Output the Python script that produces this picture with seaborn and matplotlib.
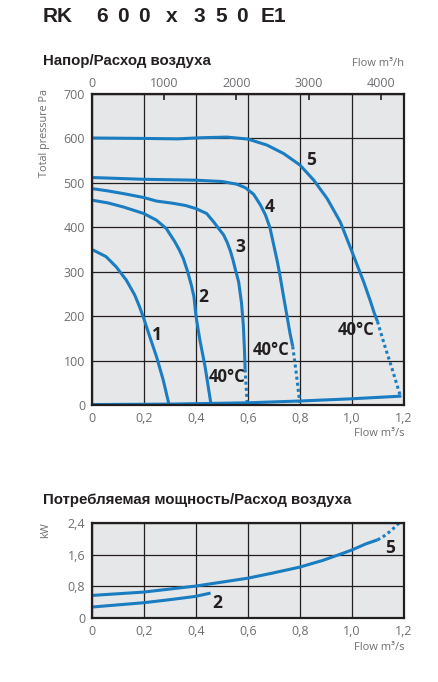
import matplotlib
matplotlib.use("Agg")
import matplotlib.pyplot as plt
import seaborn as sns
import numpy as np

# Pressure / flow curves (flow in m3/s, total pressure in Pa)
q1 = [0, 0.054, 0.093, 0.132, 0.164, 0.183, 0.199, 0.222, 0.248, 0.274, 0.295]
p1 = [350, 334, 311, 281, 248, 221, 195, 154, 109, 56, 4]

q2 = [0, 0.06, 0.119, 0.199, 0.248, 0.286, 0.318, 0.335, 0.351, 0.368, 0.382,
      0.392, 0.4, 0.415, 0.435, 0.457]
p2 = [461, 455, 446, 431, 416, 397, 368, 350, 330, 300, 270, 244, 200, 146, 86, 4]

q3 = [0, 0.06, 0.119, 0.199, 0.248, 0.312, 0.36, 0.4, 0.441, 0.468, 0.49, 0.506,
      0.52, 0.532, 0.542, 0.551, 0.564, 0.575, 0.582, 0.586, 0.589]
p3 = [487, 482, 476, 467, 459, 454, 449, 442, 431, 412, 395, 383, 366, 347, 327,
      306, 277, 230, 180, 130, 80]
q3_hot = [0.589, 0.593, 0.597]
p3_hot = [80, 40, 4]

q4 = [0, 0.199, 0.4, 0.5, 0.557, 0.59, 0.622, 0.648, 0.667, 0.684, 0.699, 0.712,
      0.722, 0.735, 0.75, 0.762, 0.772]
p4 = [512, 508, 506, 503, 497, 489, 474, 450, 428, 400, 360, 325, 295, 250, 200,
      160, 132]
q4_hot = [0.772, 0.786, 0.799]
p4_hot = [132, 70, 5]

q5 = [0, 0.2, 0.33, 0.417, 0.519, 0.6, 0.673, 0.737, 0.8, 0.853, 0.904, 0.955,
      1.0, 1.045, 1.07, 1.085, 1.098]
p5 = [601, 600, 599, 601.5, 603, 598.5, 585, 566, 540, 506, 465, 412, 345, 277,
      235, 208, 188]
q5_hot = [1.098, 1.125, 1.155, 1.186]
p5_hot = [188, 135, 80, 20]

# system line along the bottom
q_sys = [0, 0.3, 0.6, 0.8, 1.0, 1.19]
p_sys = [1, 2, 5, 9, 14, 20]

# Power consumption / flow (kW)
qw5 = [0, 0.199, 0.398, 0.5, 0.6, 0.693, 0.798, 0.886, 0.963, 1.0, 1.053, 1.098]
w5 = [0.57, 0.655, 0.806, 0.907, 1.007, 1.133, 1.284, 1.452, 1.63, 1.72, 1.872, 1.973]
qw5_hot = [1.098, 1.117, 1.149, 1.181]
w5_hot = [1.973, 2.04, 2.2, 2.4]
qw2 = [0, 0.199, 0.308, 0.398, 0.456]
w2 = [0.277, 0.386, 0.47, 0.546, 0.63]

curve_labels = ["1", "2", "3", "4", "5"]
label_q = [0.25, 0.427, 0.569, 0.685, 0.842]
label_p = [158, 243, 356, 446, 551]
temp_q = [0.519, 0.688, 1.015]
temp_p = [63, 124, 169]

flow_ticks = ["0", "0,2", "0,4", "0,6", "0,8", "1,0", "1,2"]
kw_ticks = ["0", "0,8", "1,6", "2,4"]

BLUE = "#1a7cc1"
DARK = "#231f20"
GREY = "#6d6e71"
BG = "#e6e7e8"
NARROW = ["Liberation Sans Narrow", "Open Sans"]

sns.set_style("white", {"axes.facecolor": BG})
plt.rcParams["font.family"] = ["Open Sans", "DejaVu Sans"]

fig = plt.figure(figsize=(4.38, 6.82), dpi=100)
ax = fig.add_axes([92 / 438, 1 - 405 / 682, 312 / 438, 311 / 682])
ax2 = fig.add_axes([92 / 438, 1 - 618 / 682, 312 / 438, 95 / 682])

lw = 2.2
for xs, ys in [(q1, p1), (q2, p2), (q3, p3), (q4, p4), (q5, p5), (q_sys, p_sys)]:
    sns.lineplot(x=xs, y=ys, ax=ax, color=BLUE, lw=lw, sort=False,
                 solid_capstyle="butt", solid_joinstyle="round")
for xs, ys in [(q3_hot, p3_hot), (q4_hot, p4_hot), (q5_hot, p5_hot)]:
    sns.lineplot(x=xs, y=ys, ax=ax, color=BLUE, lw=lw, sort=False,
                 linestyle=(0, (1, 1)), dash_capstyle="butt")

for lab, x, y in zip(curve_labels, label_q, label_p):
    ax.text(x, y, lab, fontsize=12.5, fontweight="bold", color=DARK,
            family=NARROW, ha="center", va="center")
for x, y in zip(temp_q, temp_p):
    ax.text(x, y, "40°C", fontsize=12, fontweight="bold", color=DARK,
            family=NARROW, ha="center", va="center")

ax.set_xlim(0, 1.2)
ax.set_ylim(0, 700)
ax.set_xticks(np.arange(0, 1.21, 0.2))
ax.set_xticklabels(flow_ticks)
ax.set_yticks(np.arange(0, 701, 100))
ax.grid(True, color=DARK, lw=0.9)
ax.tick_params(length=0, labelsize=9, labelcolor=GREY, pad=5)

top = ax.secondary_xaxis("top", functions=(lambda q: q * 3600, lambda h: h / 3600))
top.set_xticks([0, 1000, 2000, 3000, 4000])
top.tick_params(direction="in", length=4, width=1.2, color=DARK,
                labelsize=9, labelcolor=GREY, pad=3)

sns.lineplot(x=qw5, y=w5, ax=ax2, color=BLUE, lw=lw, sort=False,
             solid_capstyle="butt")
sns.lineplot(x=qw5_hot, y=w5_hot, ax=ax2, color=BLUE, lw=lw, sort=False,
             linestyle=(0, (1, 1)), dash_capstyle="butt")
sns.lineplot(x=qw2, y=w2, ax=ax2, color=BLUE, lw=lw, sort=False,
             solid_capstyle="butt")
ax2.text(1.146, 1.763, "5", fontsize=12.5, fontweight="bold", color=DARK,
         family=NARROW, ha="center", va="center")
ax2.text(0.481, 0.386, "2", fontsize=12.5, fontweight="bold", color=DARK,
         family=NARROW, ha="center", va="center")

ax2.set_xlim(0, 1.2)
ax2.set_ylim(0, 2.4)
ax2.set_xticks(np.arange(0, 1.21, 0.2))
ax2.set_xticklabels(flow_ticks)
ax2.set_yticks([0, 0.8, 1.6, 2.4])
ax2.set_yticklabels(kw_ticks)
ax2.set_yticks([0.4, 1.2, 2.0], minor=True)
ax2.grid(True, color=DARK, lw=0.9)
ax2.tick_params(length=0, labelsize=9, labelcolor=GREY, pad=5)
ax2.tick_params(axis="y", which="minor", length=2, color=GREY)

for a in (ax, ax2):
    for s in a.spines.values():
        s.set_visible(True)
        s.set_color(DARK)
        s.set_linewidth(1.6)
    a.set_xlabel("")
    a.set_ylabel("")

# letter-spaced model name
title_parts = ["RK", "6", "0", "0", "x", "3", "5", "0", "E1"]
title_x = [43, 96, 117, 138, 166, 194, 215, 236, 261]
for part, px in zip(title_parts, title_x):
    fig.text(px / 438, 1 - 17 / 682, part, fontsize=15, fontweight="bold",
             color=DARK, family="Liberation Sans", va="center")

fig.text(43 / 438, 1 - 61 / 682, "Напор/Расход воздуха", fontsize=10.8,
         fontweight="bold", color=DARK, family="Liberation Sans", va="center")
fig.text(404 / 438, 1 - 63 / 682, "Flow m³/h", fontsize=8, color=GREY,
         ha="right", va="center")
fig.text(45 / 438, 1 - 133 / 682, "Total pressure Pa", fontsize=7.8, color=GREY,
         rotation=90, ha="center", va="center")
fig.text(404 / 438, 1 - 434 / 682, "Flow m³/s", fontsize=8, color=GREY,
         ha="right", va="center")
fig.text(43 / 438, 1 - 500 / 682, "Потребляемая мощность/Расход воздуха",
         fontsize=10.8, fontweight="bold", color=DARK, family="Liberation Sans",
         va="center")
fig.text(46 / 438, 1 - 530 / 682, "kW", fontsize=7.8, color=GREY,
         rotation=90, ha="center", va="center")
fig.text(404 / 438, 1 - 648 / 682, "Flow m³/s", fontsize=8, color=GREY,
         ha="right", va="center")

fig.savefig("out.png", dpi=100)
